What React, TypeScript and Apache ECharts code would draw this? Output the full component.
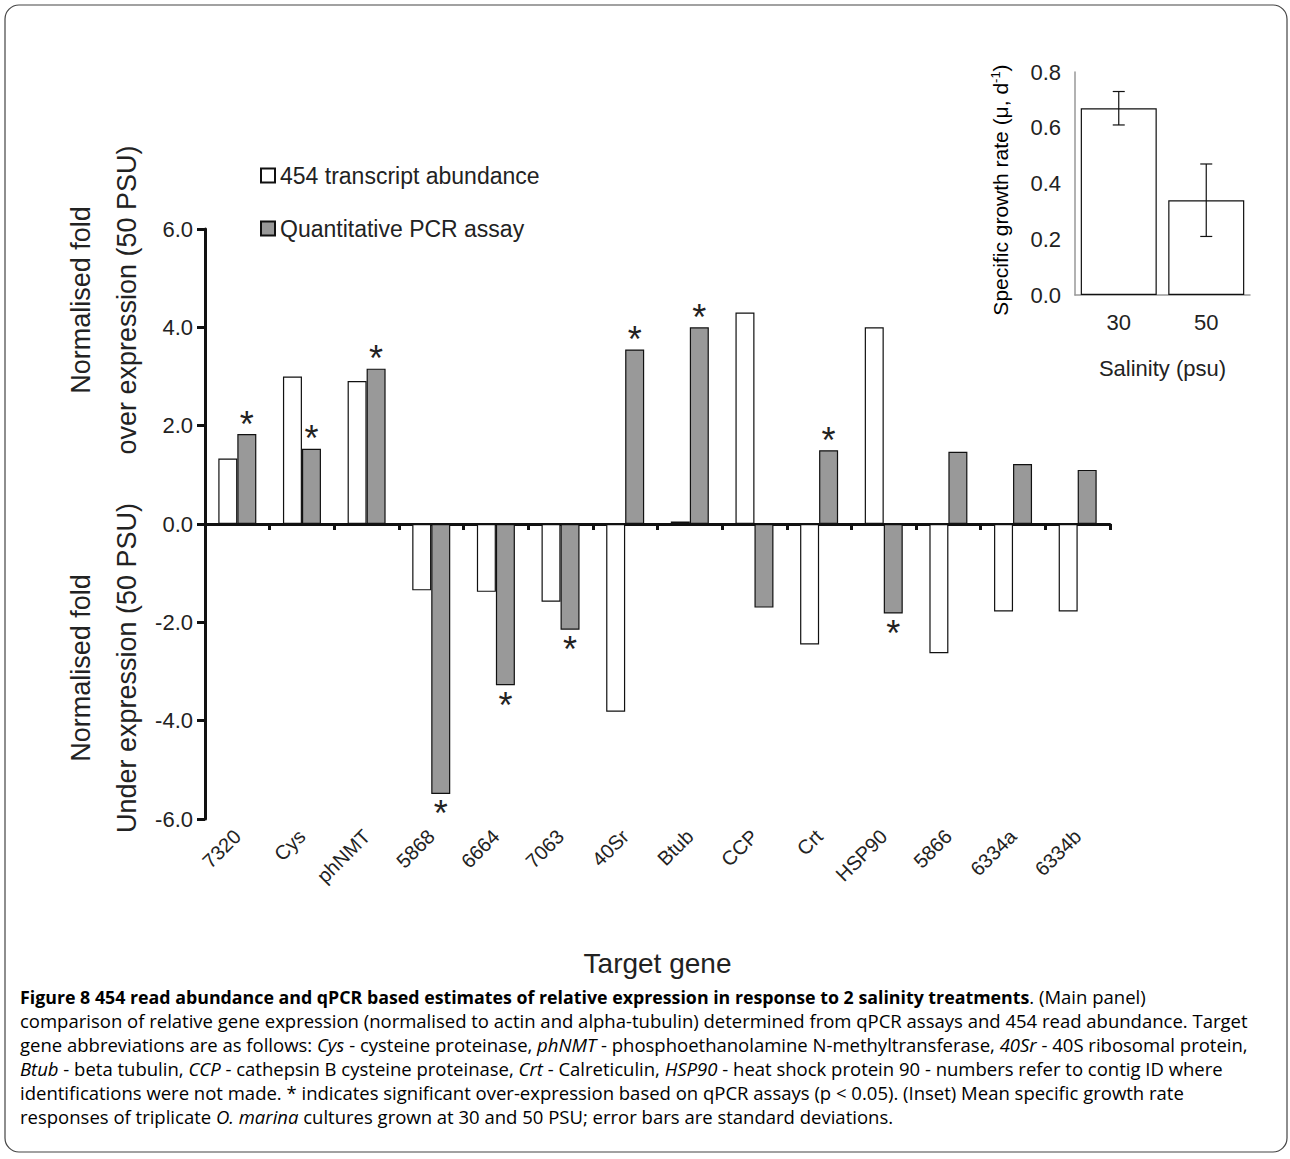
import * as echarts from 'echarts';
import { useEffect, useRef } from 'react';

const genes = ['7320', 'Cys', 'phNMT', '5868', '6664', '7063', '40Sr', 'Btub', 'CCP', 'Crt', 'HSP90', '5866', '6334a', '6334b'];
const abundance454 = [1.33, 3.0, 2.91, -1.35, -1.38, -1.58, -3.82, 0.05, 4.3, -2.45, 4.0, -2.63, -1.78, -1.78];
const qpcr = [1.83, 1.53, 3.16, -5.49, -3.28, -2.15, 3.55, 4.0, -1.7, 1.5, -1.82, 1.47, 1.22, 1.1];
const significant = [true, true, true, true, true, true, true, true, false, true, true, false, false, false];

const salinity = ['30', '50'];
const growthRate = [0.67, 0.34];
const growthSd = [0.06, 0.13];

const FONT = 'Liberation Sans';

const captionLines: [string, string][][] = [
  [['b', 'Figure 8 454 read abundance and qPCR based estimates of relative expression in response to 2 salinity treatments'], ['n', '. (Main panel)']],
  [['n', 'comparison of relative gene expression (normalised to actin and alpha-tubulin) determined from qPCR assays and 454 read abundance. Target']],
  [['n', 'gene abbreviations are as follows: '], ['i', 'Cys'], ['n', ' - cysteine proteinase, '], ['i', 'phNMT'], ['n', ' - phosphoethanolamine N-methyltransferase, '], ['i', '40Sr'], ['n', ' - 40S ribosomal protein,']],
  [['i', 'Btub'], ['n', ' - beta tubulin, '], ['i', 'CCP'], ['n', ' - cathepsin B cysteine proteinase, '], ['i', 'Crt'], ['n', ' - Calreticulin, '], ['i', 'HSP90'], ['n', ' - heat shock protein 90 - numbers refer to contig ID where']],
  [['n', 'identifications were not made. * indicates significant over-expression based on qPCR assays (p < 0.05). (Inset) Mean specific growth rate']],
  [['n', 'responses of triplicate '], ['i', 'O. marina'], ['n', ' cultures grown at 30 and 50 PSU; error bars are standard deviations.']],
];

export default function App() {
  const ref = useRef<HTMLDivElement>(null);

  useEffect(() => {
    if (!ref.current) return;
    const chart = echarts.init(ref.current, undefined, { renderer: 'svg' });

    const capStyle = { fontFamily: 'Open Sans', fontSize: 18.5, color: '#333' };
    const caption = captionLines.map((parts, i) => ({
      type: 'text',
      left: 20,
      top: 987 + i * 24,
      style: {
        text: parts.map(([k, t]) => `{${k}|${t}}`).join(''),
        rich: {
          n: { ...capStyle },
          b: { ...capStyle, fontWeight: 'bold', fontSize: 17.8 },
          i: { ...capStyle, fontStyle: 'italic' },
        },
      },
    }));

    const qData = qpcr.map((v, i) => ({
      value: v,
      label: significant[i]
        ? { show: true, formatter: '*', position: v >= 0 ? 'top' : 'bottom', fontSize: 36, color: '#222', fontFamily: FONT, distance: v >= 0 ? -8 : 2 }
        : { show: false },
    }));

    chart.setOption({
      animation: false,
      backgroundColor: '#fff',
      textStyle: { fontFamily: FONT },
      grid: [
        { left: 205, right: 180, top: 229, bottom: 1159 - 819 },
        { left: 1075, right: 40, top: 72, bottom: 1159 - 295 },
      ],
      legend: {
        left: 255, top: 159, orient: 'vertical', itemGap: 30, itemWidth: 14, itemHeight: 14, icon: 'rect',
        textStyle: { fontSize: 23, color: '#222', fontFamily: FONT },
        data: ['454 transcript abundance', 'Quantitative PCR assay'],
      },
      xAxis: [
        {
          gridIndex: 0, type: 'category', data: genes,
          axisLine: { onZero: true, lineStyle: { color: '#111', width: 3 } },
          axisTick: { show: true, length: 6, lineStyle: { color: '#111', width: 3 } },
          axisLabel: { show: false },
        },
        {
          gridIndex: 0, type: 'category', data: genes, position: 'bottom',
          axisLine: { show: false }, axisTick: { show: false },
          axisLabel: { rotate: 45, fontSize: 20, color: '#222', margin: 14 },
          name: 'Target gene', nameLocation: 'middle', nameGap: 130,
          nameTextStyle: { fontSize: 28, color: '#222' },
        },
        {
          gridIndex: 1, type: 'category', data: salinity,
          axisLine: { lineStyle: { color: '#999', width: 1.5 } },
          axisTick: { show: false },
          axisLabel: { fontSize: 22, color: '#222', margin: 16 },
          name: 'Salinity (psu)', nameLocation: 'middle', nameGap: 62,
          nameTextStyle: { fontSize: 22, color: '#222' },
        },
      ],
      yAxis: [
        {
          gridIndex: 0, type: 'value', min: -6, max: 6, interval: 2,
          axisLine: { show: true, lineStyle: { color: '#111', width: 3 } },
          axisTick: { show: true, length: 8, lineStyle: { color: '#111', width: 3 } },
          axisLabel: { formatter: (v: number) => v.toFixed(1), fontSize: 22, color: '#222', margin: 12 },
          splitLine: { show: false },
        },
        {
          gridIndex: 1, type: 'value', min: 0, max: 0.8, interval: 0.2,
          axisLine: { show: true, lineStyle: { color: '#999', width: 1.5 } },
          axisTick: { show: false },
          axisLabel: { formatter: (v: number) => v.toFixed(1), fontSize: 22, color: '#222', margin: 14 },
          splitLine: { show: false },
        },
      ],
      series: [
        {
          name: '454 transcript abundance', type: 'bar', xAxisIndex: 0, yAxisIndex: 0,
          data: abundance454, barWidth: 19, barGap: '0%',
          itemStyle: { color: '#fff', borderColor: '#111', borderWidth: 1.2 },
        },
        {
          name: 'Quantitative PCR assay', type: 'bar', xAxisIndex: 0, yAxisIndex: 0,
          data: qData, barWidth: 19, barGap: '0%',
          itemStyle: { color: '#999', borderColor: '#111', borderWidth: 1.2 },
        },
        {
          type: 'bar', xAxisIndex: 2, yAxisIndex: 1, data: growthRate, barWidth: 76,
          itemStyle: { color: '#fff', borderColor: '#111', borderWidth: 1.2 },
        },
        {
          type: 'custom', xAxisIndex: 2, yAxisIndex: 1, z: 10,
          data: growthRate.map((v, i) => [i, v - growthSd[i], v + growthSd[i]]),
          renderItem: (params: any, api: any) => {
            const lo = api.coord([api.value(0), api.value(1)]);
            const hi = api.coord([api.value(0), api.value(2)]);
            const w = 6;
            const st = { stroke: '#111', lineWidth: 1.2 };
            return {
              type: 'group',
              children: [
                { type: 'line', shape: { x1: lo[0], y1: lo[1], x2: hi[0], y2: hi[1] }, style: st },
                { type: 'line', shape: { x1: lo[0] - w, y1: lo[1], x2: lo[0] + w, y2: lo[1] }, style: st },
                { type: 'line', shape: { x1: hi[0] - w, y1: hi[1], x2: hi[0] + w, y2: hi[1] }, style: st },
              ],
            };
          },
        },
      ],
      graphic: [
        {
          type: 'rect', shape: { x: 5, y: 5, width: 1282, height: 1147, r: 14 },
          style: { fill: 'none', stroke: '#444', lineWidth: 1.2 }, silent: true,
        },
        {
          type: 'text', x: 104, y: 300, rotation: Math.PI / 2,
          style: { text: 'Normalised fold\nover expression (50 PSU)', fontSize: 27, fontFamily: FONT, fill: '#222', align: 'center', verticalAlign: 'middle', lineHeight: 46 },
        },
        {
          type: 'text', x: 104, y: 668, rotation: Math.PI / 2,
          style: { text: 'Normalised fold\nUnder expression (50 PSU)', fontSize: 27, fontFamily: FONT, fill: '#222', align: 'center', verticalAlign: 'middle', lineHeight: 46 },
        },
        {
          type: 'text', x: 1000, y: 190, rotation: Math.PI / 2,
          style: {
            text: '{n|Specific growth rate (μ, d}{s|-1}{n|)}',
            align: 'center', verticalAlign: 'middle',
            rich: {
              n: { fontSize: 21, fontFamily: FONT, color: '#222' },
              s: { fontSize: 13, fontFamily: FONT, color: '#222', verticalAlign: 'top', padding: [0, 0, 10, 0] },
            },
          },
        },
        ...caption,
      ],
    });

    return () => chart.dispose();
  }, []);

  return <div ref={ref} style={{ position: 'absolute', left: 0, top: 0, width: 1290, height: 1159 }} />;
}
